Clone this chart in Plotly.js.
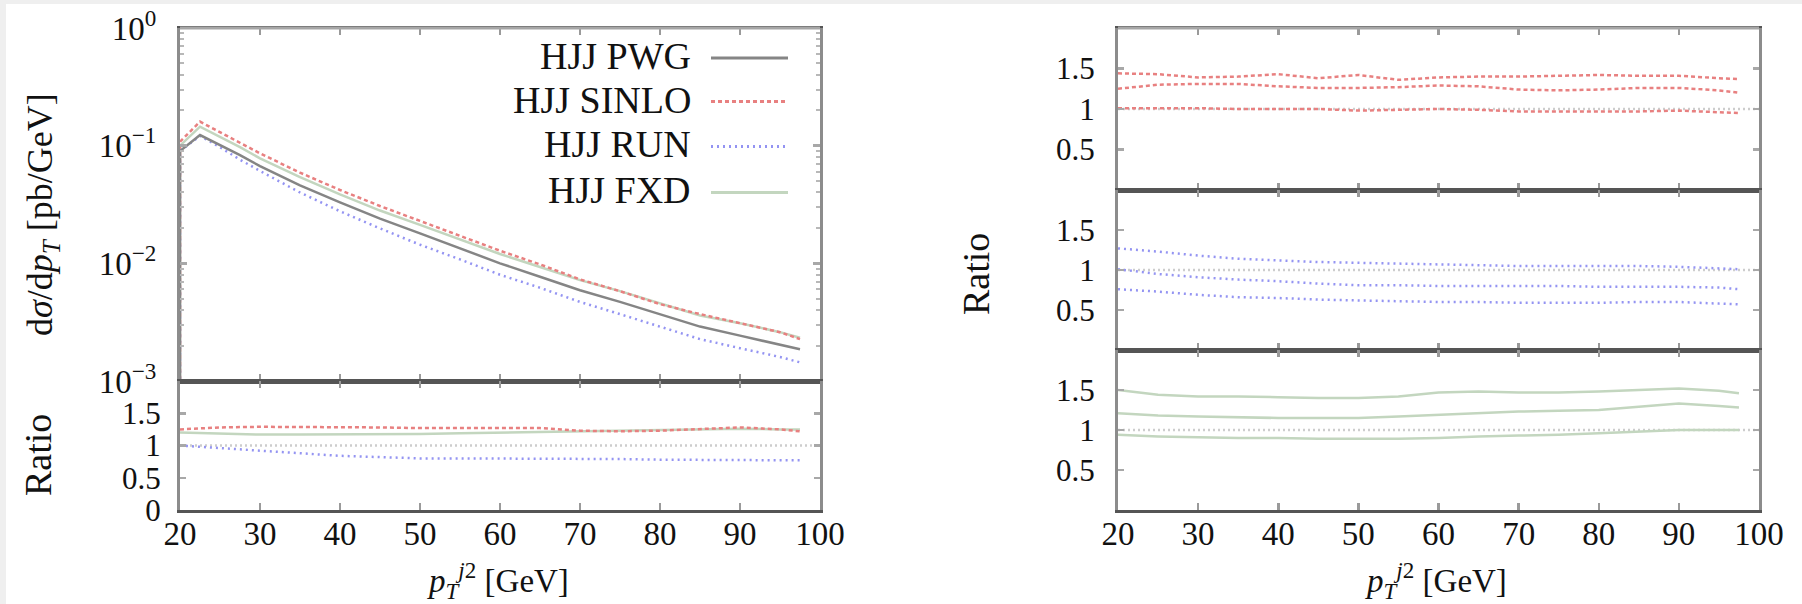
<!DOCTYPE html>
<html><head><meta charset="utf-8">
<script src="https://cdn.plot.ly/plotly-3.0.1.min.js"></script>
<style>
html,body{margin:0;padding:0;background:#efefef;width:1802px;height:604px;overflow:hidden;}
#chart{position:absolute;left:6px;top:4px;width:1796px;height:600px;background:#fff;}
</style></head><body><div id="chart"></div>
<script>
// ---- data ----
// main panel: dσ/dpT [pb/GeV] vs pT^j2 (first point is the histogram's zero edge)
const ptMain = [20, 20, 22.5, 25, 27.5, 30, 35, 40, 45, 50, 55, 60, 65, 70, 75, 80, 85, 90, 95, 97.5];
const xsPWG   = [1e-4, 0.090, 0.123, 0.101, 0.083, 0.067, 0.046, 0.033, 0.024, 0.018, 0.0134, 0.0100, 0.0077, 0.0059, 0.0047, 0.0037, 0.0029, 0.00243, 0.00205, 0.00186];
const xsSINLO = [1e-4, 0.108, 0.160, 0.130, 0.107, 0.086, 0.059, 0.042, 0.0307, 0.0229, 0.0171, 0.0128, 0.0098, 0.0073, 0.0058, 0.0045, 0.0037, 0.0031, 0.0026, 0.00227];
const xsRUN   = [1e-4, 0.090, 0.121, 0.097, 0.076, 0.061, 0.040, 0.0277, 0.0198, 0.0144, 0.0108, 0.0080, 0.0062, 0.0047, 0.0037, 0.0029, 0.00227, 0.0019, 0.0016, 0.00144];
const xsFXD   = [1e-4, 0.100, 0.145, 0.119, 0.097, 0.078, 0.054, 0.0385, 0.0281, 0.0212, 0.0160, 0.0120, 0.0093, 0.0072, 0.0058, 0.0046, 0.0036, 0.0031, 0.0026, 0.00233];

// ratio panels
const ptRatio = [20, 25, 30, 35, 40, 45, 50, 55, 60, 65, 70, 75, 80, 85, 90, 95, 97.5];
const ratioSINLO = [1.25, 1.28, 1.29, 1.29, 1.29, 1.28, 1.27, 1.27, 1.28, 1.27, 1.23, 1.22, 1.23, 1.26, 1.28, 1.25, 1.22];
const ratioFXD   = [1.20, 1.18, 1.17, 1.17, 1.17, 1.17, 1.18, 1.19, 1.20, 1.21, 1.22, 1.22, 1.23, 1.25, 1.26, 1.25, 1.25];
const ratioRUN   = [1.00, 0.96, 0.91, 0.87, 0.84, 0.82, 0.80, 0.80, 0.80, 0.79, 0.79, 0.79, 0.78, 0.78, 0.78, 0.77, 0.77];

// right: scale variations of each prediction
const sinloUp   = [1.44, 1.43, 1.39, 1.40, 1.43, 1.38, 1.42, 1.36, 1.39, 1.40, 1.40, 1.41, 1.42, 1.41, 1.41, 1.38, 1.37];
const sinloMid  = [1.25, 1.30, 1.31, 1.31, 1.28, 1.26, 1.26, 1.27, 1.29, 1.28, 1.24, 1.23, 1.24, 1.26, 1.26, 1.23, 1.20];
const sinloDown = [1.01, 1.01, 1.01, 1.00, 1.00, 1.00, 0.98, 0.99, 1.00, 0.99, 0.97, 0.97, 0.97, 0.97, 0.98, 0.96, 0.95];
const runUp     = [1.27, 1.23, 1.18, 1.14, 1.12, 1.10, 1.09, 1.08, 1.07, 1.06, 1.05, 1.05, 1.05, 1.05, 1.04, 1.02, 1.01];
const runMid    = [1.01, 0.95, 0.91, 0.88, 0.86, 0.83, 0.81, 0.81, 0.80, 0.80, 0.80, 0.80, 0.79, 0.79, 0.79, 0.78, 0.76];
const runDown   = [0.76, 0.73, 0.69, 0.66, 0.65, 0.63, 0.62, 0.61, 0.60, 0.60, 0.59, 0.59, 0.59, 0.60, 0.60, 0.58, 0.57];
const fxdUp     = [1.50, 1.44, 1.42, 1.42, 1.41, 1.40, 1.40, 1.42, 1.47, 1.48, 1.47, 1.47, 1.48, 1.50, 1.52, 1.49, 1.46];
const fxdMid    = [1.21, 1.18, 1.17, 1.16, 1.15, 1.15, 1.15, 1.17, 1.19, 1.21, 1.23, 1.24, 1.25, 1.29, 1.33, 1.30, 1.28];
const fxdDown   = [0.94, 0.92, 0.91, 0.90, 0.90, 0.89, 0.89, 0.89, 0.90, 0.92, 0.93, 0.94, 0.96, 0.98, 1.00, 1.00, 1.00];

const seriesNames = ['HJJ PWG', 'HJJ SINLO', 'HJJ RUN', 'HJJ FXD'];
const xTickVals = [20, 30, 40, 50, 60, 70, 80, 90, 100];
const logTickVals = [0.001, 0.01, 0.1, 1];
const logTickText = ['10<sup>\u22123</sup>', '10<sup>\u22122</sup>', '10<sup>\u22121</sup>', '10<sup>0</sup>'];

// ---- styles ----
const sty = {
  PWG:   {color: '#858585', width: 2.5, dash: 'solid'},
  SINLO: {color: '#e88080', width: 2.5, dash: '4px,3px'},
  RUN:   {color: '#9494f2', width: 2.5, dash: '2px,4px'},
  FXD:   {color: '#c3d6bf', width: 2.5, dash: 'solid'}
};
const FONT = 'Liberation Serif, Times New Roman, serif';
const W = 1796, H = 600;
const fx = p => p / W, fy = p => 1 - p / H;

function ln(x, y, s, xa, ya, name) {
  return {type: 'scatter', mode: 'lines', x: x, y: y, name: name, xaxis: xa, yaxis: ya,
          line: {color: s.color, width: s.width, dash: s.dash, shape: 'linear'}, showlegend: false, hoverinfo: 'skip'};
}

const data = [
  ln(ptMain, xsFXD, sty.FXD, 'x', 'y', seriesNames[3]),
  ln(ptMain, xsRUN, sty.RUN, 'x', 'y', seriesNames[2]),
  ln(ptMain, xsSINLO, sty.SINLO, 'x', 'y', seriesNames[1]),
  ln(ptMain, xsPWG, sty.PWG, 'x', 'y', seriesNames[0]),
  ln(ptRatio, ratioFXD, sty.FXD, 'x2', 'y2', 'FXD/PWG'),
  ln(ptRatio, ratioSINLO, sty.SINLO, 'x2', 'y2', 'SINLO/PWG'),
  ln(ptRatio, ratioRUN, sty.RUN, 'x2', 'y2', 'RUN/PWG'),
  ln(ptRatio, sinloUp, sty.SINLO, 'x3', 'y3', 'SINLO up'),
  ln(ptRatio, sinloMid, sty.SINLO, 'x3', 'y3', 'SINLO central'),
  ln(ptRatio, sinloDown, sty.SINLO, 'x3', 'y3', 'SINLO down'),
  ln(ptRatio, runUp, sty.RUN, 'x4', 'y4', 'RUN up'),
  ln(ptRatio, runMid, sty.RUN, 'x4', 'y4', 'RUN central'),
  ln(ptRatio, runDown, sty.RUN, 'x4', 'y4', 'RUN down'),
  ln(ptRatio, fxdUp, sty.FXD, 'x5', 'y5', 'FXD up'),
  ln(ptRatio, fxdMid, sty.FXD, 'x5', 'y5', 'FXD central'),
  ln(ptRatio, fxdDown, sty.FXD, 'x5', 'y5', 'FXD down')
];

const LX = [fx(174), fx(814)], RX = [fx(1112), fx(1753)];
const tickFont = {family: FONT, size: 33, color: '#111'};
const ratioFont = {family: FONT, size: 31, color: '#111'};

function xax(domain, anchor, labels, match) {
  const a = {domain: domain, anchor: anchor, range: [20, 100], tickmode: 'array', tickvals: xTickVals,
    ticks: 'inside', ticklen: 7, tickwidth: 2.5, tickcolor: '#9a9a9a', showline: true, linecolor: '#555',
    linewidth: 2.5, mirror: 'ticks', showgrid: false, zeroline: false, showticklabels: labels,
    tickfont: tickFont, ticklabelstandoff: -7, automargin: false, fixedrange: true};
  if (match) a.matches = match;
  return a;
}
function yrat(domain, anchor, vals, standoff) {
  return {domain: domain, anchor: anchor, range: [0, 2], tickmode: 'array', tickvals: vals,
    ticktext: vals.map(v => String(v)), ticks: 'inside', ticklen: 6, tickwidth: 2.5, tickcolor: '#a8a8a8',
    showline: true, linecolor: '#8c8c8c', linewidth: 3, mirror: 'ticks', showgrid: false, zeroline: false,
    tickfont: ratioFont, ticklabelstandoff: standoff, automargin: false, fixedrange: true};
}

const layout = {
  width: W, height: H, margin: {l: 0, r: 0, t: 0, b: 0, pad: 0},
  paper_bgcolor: '#ffffff', plot_bgcolor: '#ffffff', showlegend: false,
  font: {family: FONT, color: '#111'},
  xaxis: xax(LX, 'y', false),
  xaxis2: xax(LX, 'y2', true, 'x'),
  xaxis3: xax(RX, 'y3', false),
  xaxis4: xax(RX, 'y4', false, 'x3'),
  xaxis5: xax(RX, 'y5', true, 'x3'),
  yaxis: {domain: [fy(377), fy(24)], anchor: 'x', type: 'log', range: [-3, 0], tickmode: 'array',
    tickvals: logTickVals, ticktext: logTickText, ticks: 'inside', ticklen: 7, tickwidth: 2.5, tickcolor: '#a8a8a8',
    minor: {ticks: 'inside', ticklen: 4, tickwidth: 2, tickcolor: '#b8b8b8', dtick: 'D1', showgrid: false},
    showline: true, linecolor: '#8c8c8c', linewidth: 3, mirror: 'ticks', showgrid: false, zeroline: false,
    tickfont: tickFont, ticklabelstandoff: 14, automargin: false, fixedrange: true},
  yaxis2: yrat([fy(506), fy(377)], 'x2', [0, 0.5, 1, 1.5], 10),
  yaxis3: yrat([fy(186), fy(24)], 'x3', [0.5, 1, 1.5], 14),
  yaxis4: yrat([fy(346), fy(186)], 'x4', [0.5, 1, 1.5], 14),
  yaxis5: yrat([fy(506), fy(346)], 'x5', [0.5, 1, 1.5], 14),
  shapes: [],
  annotations: []
};

// unity reference lines in ratio panels
[['x2', 'y2'], ['x3', 'y3'], ['x4', 'y4'], ['x5', 'y5']].forEach(([xa, ya]) => {
  layout.shapes.push({type: 'line', xref: xa + ' domain', x0: 0, x1: 1, yref: ya, y0: 1, y1: 1,
    line: {color: '#cdcdcd', width: 2.5, dash: '2px,3px'}, layer: 'below'});
});
// lighter top edge of the frames
[['x', 'y'], ['x3', 'y3']].forEach(([xa, ya]) => {
  layout.shapes.push({type: 'line', xref: xa + ' domain', x0: 0, x1: 1, yref: ya + ' domain', y0: 1, y1: 1,
    line: {color: '#a6a6a6', width: 3}, layer: 'above'});
});

// legend (text on the left, sample on the right)
const legY = [52, 95.5, 140.5, 186.5];
const legSty = [sty.PWG, sty.SINLO, sty.RUN, sty.FXD];
seriesNames.forEach((nm, i) => {
  layout.annotations.push({xref: 'paper', yref: 'paper', x: fx(687), y: fy(legY[i]), xanchor: 'right', yanchor: 'middle',
    text: nm, showarrow: false, font: {family: FONT, size: 38, color: '#111'}});
  layout.shapes.push({type: 'line', xref: 'paper', yref: 'paper', x0: fx(705), x1: fx(782),
    y0: fy(legY[i] + 2), y1: fy(legY[i] + 2), line: {color: legSty[i].color, width: 3, dash: legSty[i].dash}});
});

// axis titles
const ttl = (x, y, text, size, angle) => ({xref: 'paper', yref: 'paper', x: fx(x), y: fy(y), xanchor: 'center',
  yanchor: 'middle', text: text, showarrow: false, textangle: angle || 0, font: {family: FONT, size: size, color: '#111'}});
layout.annotations.push(ttl(36, 211, 'd<i>\u03c3</i>/d<i>p</i><sub><i>T</i></sub> [pb/GeV]', 36, -90));
layout.annotations.push(ttl(32, 451, 'Ratio', 38, -90));
layout.annotations.push(ttl(970, 270, 'Ratio', 38, -90));
layout.annotations.push(ttl(492, 576, '<i>p</i><sub><i>T</i></sub><sup><i>j</i>2</sup> [GeV]', 33));
layout.annotations.push(ttl(1430, 576, '<i>p</i><sub><i>T</i></sub><sup><i>j</i>2</sup> [GeV]', 33));

Plotly.newPlot('chart', data, layout, {displayModeBar: false, staticPlot: true});
</script></body></html>
